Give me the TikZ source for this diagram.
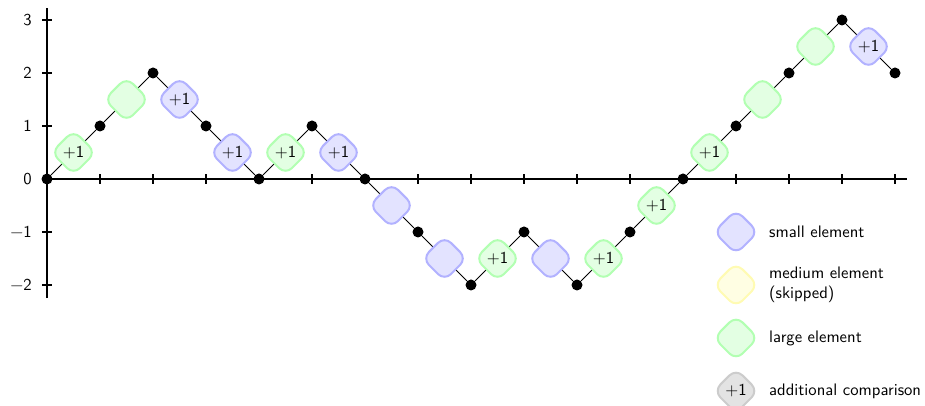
\documentclass[tikz,border=0pt]{standalone}
\usetikzlibrary{shapes.geometric,calc}
\begin{document}
\begin{tikzpicture}[x=31.8pt,y=31.8pt,font=\sffamily,
  dot/.style={circle,fill=black,inner sep=0pt,minimum size=6.6pt},
  elem/.style={diamond,rounded corners=5.5pt,minimum width=27pt,minimum height=27pt,inner sep=0pt,line width=1.2pt},
  smallel/.style={elem,draw=blue!30,fill=blue!11},
  mediumel/.style={elem,draw=yellow!30,fill=yellow!11},
  largeel/.style={elem,draw=green!30,fill=green!11},
  extrael/.style={elem,draw=black!20,fill=black!11},
  conn/.style={line width=0.6pt},
  axisline/.style={line width=0.7pt},
  ticklabel/.style={anchor=east,inner sep=0pt},
  legtext/.style={anchor=west,inner sep=0pt,align=left}]
\useasboundingbox (-0.887,-4.283) rectangle (16.566,3.377);
% axes
\coordinate (xs) at (-0.08,0);
\coordinate (xe) at (16.23,0);
\coordinate (ys) at (0,-2.25);
\coordinate (ye) at (0,3.23);
\draw[axisline] (xs) -- (xe);
\draw[axisline] (ys) -- (ye);
\foreach \i in {1,...,16} \draw[axisline] (\i,-0.094) -- (\i,0.094);
\foreach \j in {-2,...,3} \draw[axisline] (-0.094,\j) -- (0.094,\j);
\foreach \j/\lab in {3/3,2/2,1/1,0/0,-1/{\textminus1},-2/{\textminus2}}
  \node[ticklabel] (yl\j) at (-0.283,\j) {\lab};
% points
\foreach \y [count=\k from 0] in {0,1,2,1,0,1,0,-1,-2,-1,-2,-1,0,1,2,3,2}
  \node[dot] (p\k) at (\k,\y) {};
\foreach \k in {0,...,15} {
  \pgfmathtruncatemacro{\n}{\k+1}
  \draw[conn] (p\k) -- (p\n);
}
\foreach \k/\s/\t in {0/largeel/+1,1/largeel/{},2/smallel/+1,3/smallel/+1,
  4/largeel/+1,5/smallel/+1,6/smallel/{},7/smallel/{},8/largeel/+1,9/smallel/{},
  10/largeel/+1,11/largeel/+1,12/largeel/+1,13/largeel/{},14/largeel/{},15/smallel/+1} {
  \pgfmathtruncatemacro{\n}{\k+1}
  \node[\s] (d\k) at ($(p\k)!0.5!(p\n)$) {\t};
}
% legend
\node[smallel] (l1) at (13,-1) {};
\node[legtext] (t1) at (13.62,-1) {small element};
\node[mediumel] (l2) at (13,-2) {};
\node[legtext] (t2) at (13.62,-2) {medium element\\(skipped)};
\node[largeel] (l3) at (13,-3) {};
\node[legtext] (t3) at (13.62,-3) {large element};
\node[extrael] (l4) at (13,-4) {+1};
\node[legtext] (t4) at (13.62,-4) {additional comparison};
\end{tikzpicture}
\end{document}
